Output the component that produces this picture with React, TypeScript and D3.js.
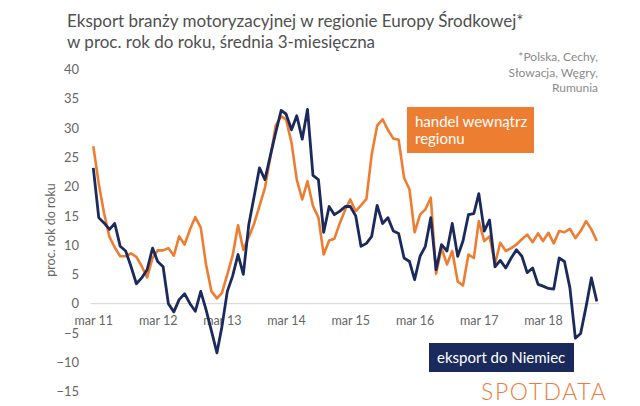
import * as d3 from "d3";
import { useRef, useEffect } from "react";

// monthly data, mar 2011 .. jan 2019
const startMonth = new Date(2011, 2, 1);

const intraRegion = [
  26.9, 20.5, 15.5, 11.4, 9.6, 8.1, 8.1, 8.6, 8.0, 6.4, 4.5, 7.8,
  9.1, 9.1, 9.5, 8.2, 11.5, 10.1, 12.7, 14.8, 13.0, 6.7, 2.1, 0.9,
  1.8, 5.0, 8.2, 13.4, 9.2, 11.4, 13.7, 16.7, 19.8, 24.9, 30.4, 32.0,
  31.5, 27.5, 21.2, 17.8, 20.9, 16.7, 14.7, 8.4, 10.8, 11.1, 13.8, 16.1,
  17.8, 15.8, 16.8, 17.9, 25.5, 30.4, 31.5, 29.7, 28.2, 28.0, 21.5, 19.5,
  12.2, 15.2, 16.1, 18.1, 5.1, 9.5, 6.7, 9.0, 3.8, 3.1, 8.4, 7.8,
  14.1, 10.7, 11.5, 6.8, 10.4, 9.0, 9.5, 10.1, 11.0, 11.8, 10.5, 12.0,
  10.7, 12.1, 10.3, 12.4, 12.2, 12.8, 11.2, 12.4, 14.1, 12.7, 10.7,
];

const toGermany = [
  23.2, 14.7, 13.8, 12.7, 13.7, 9.8, 9.0, 6.4, 3.4, 4.4, 5.8, 9.5,
  7.2, 6.3, 0.0, -1.4, 0.7, 1.7, 0.0, -1.3, 2.1, -1.0, -4.7, -8.4,
  -4.0, 2.1, 4.7, 8.4, 5.0, 13.5, 18.4, 23.2, 21.2, 25.2, 29.2, 33.0,
  32.4, 29.7, 32.1, 28.1, 33.2, 21.9, 21.2, 12.2, 16.6, 15.2, 15.8, 16.6,
  16.6, 15.0, 9.8, 10.3, 11.5, 16.8, 13.7, 14.7, 12.4, 12.0, 7.8, 7.2,
  4.1, 8.1, 9.8, 14.7, 5.8, 10.1, 9.0, 13.7, 8.1, 10.7, 15.2, 15.4,
  18.8, 12.4, 14.3, 6.3, 7.4, 6.1, 7.8, 9.2, 8.1, 5.3, 6.1, 3.3,
  3.0, 2.6, 2.5, 7.8, 7.2, 2.7, -5.9, -5.1, -0.5, 4.4, 0.4,
];

const yTicks = [-15, -10, -5, 0, 5, 10, 15, 20, 25, 30, 35, 40];
const xTickYears = [2011, 2012, 2013, 2014, 2015, 2016, 2017, 2018];

const titleLines = [
  "Eksport branży motoryzacyjnej w regionie Europy Środkowej*",
  "w proc. rok do roku, średnia 3-miesięczna",
];
const noteLines = ["*Polska, Cechy,", "Słowacja, Węgry,", "Rumunia"];

const orange = "#ed7d31";
const navy = "#1b2a5c";
const font = "Lato, 'Open Sans', sans-serif";

export default function App() {
  const svgRef = useRef(null);
  const width = 640;
  const height = 406;

  useEffect(() => {
    const svg = d3.select(svgRef.current);
    svg.selectAll("*").remove();

    const dates = intraRegion.map((_, i) => d3.timeMonth.offset(startMonth, i));

    const x = d3.scaleTime()
      .domain([new Date(2011, 2, 1), new Date(2018, 2, 1)])
      .range([93.3, 543]);

    const y = d3.scaleLinear()
      .domain([-15, 40])
      .range([391.5, 69.5]);

    svg.attr("width", width).attr("height", height)
      .attr("viewBox", [0, 0, width, height])
      .style("font-family", font);

    svg.append("rect").attr("width", width).attr("height", height).attr("fill", "#fff");

    // title
    svg.append("g")
      .selectAll("text")
      .data(titleLines)
      .join("text")
        .attr("x", 67)
        .attr("y", (d, i) => 27 + i * 21)
        .attr("font-size", 17)
        .attr("fill", "#505050")
        .text(d => d);

    // footnote
    svg.append("g")
      .selectAll("text")
      .data(noteLines)
      .join("text")
        .attr("x", 598)
        .attr("y", (d, i) => 61 + i * 15.5)
        .attr("text-anchor", "end")
        .attr("font-size", 12)
        .attr("fill", "#8a8a8a")
        .text(d => d);

    // zero line
    svg.append("line")
      .attr("x1", 90.5).attr("x2", 599)
      .attr("y1", y(0)).attr("y2", y(0))
      .attr("stroke", "#d4d4d4");

    svg.append("g")
      .attr("transform", `translate(79,0)`)
      .call(d3.axisLeft(y).tickValues(yTicks).tickSize(0).tickPadding(0))
      .call(g => g.select(".domain").remove())
      .call(g => g.selectAll("text")
        .attr("fill", "#666")
        .style("font-size", "13px")
        .style("font-family", font));

    svg.append("g")
      .attr("transform", `translate(0,${y(0)})`)
      .call(d3.axisBottom(x)
        .tickValues(xTickYears.map(yr => new Date(yr, 2, 1)))
        .tickFormat(d => "mar " + d3.timeFormat("%y")(d))
        .tickSize(0).tickPadding(12))
      .call(g => g.select(".domain").remove())
      .call(g => g.selectAll("text")
        .attr("fill", "#666")
        .style("font-size", "12.5px")
        .style("font-family", font));

    svg.append("text")
      .attr("transform", `translate(51,230) rotate(-90)`)
      .attr("text-anchor", "middle")
      .attr("dy", "0.35em")
      .attr("font-size", 12.5)
      .attr("fill", "#666")
      .text("proc. rok do roku");

    const line = d3.line()
      .x((d, i) => x(dates[i]))
      .y(d => y(d));

    svg.append("path")
      .attr("d", line(intraRegion))
      .attr("fill", "none")
      .attr("stroke", orange)
      .attr("stroke-width", 2.6)
      .attr("stroke-linejoin", "round");

    svg.append("path")
      .attr("d", line(toGermany))
      .attr("fill", "none")
      .attr("stroke", navy)
      .attr("stroke-width", 2.8)
      .attr("stroke-linejoin", "round");

    // labels
    const lab1 = svg.append("g");
    lab1.append("rect")
      .attr("x", 407).attr("y", 107)
      .attr("width", 127).attr("height", 46)
      .attr("fill", orange);
    lab1.selectAll("text")
      .data(["handel wewnątrz", "regionu"])
      .join("text")
        .attr("x", 415)
        .attr("y", (d, i) => 127 + i * 17)
        .attr("font-size", 15)
        .attr("fill", "#fff")
        .text(d => d);

    const lab2 = svg.append("g");
    lab2.append("rect")
      .attr("x", 429).attr("y", 343)
      .attr("width", 145).attr("height", 29)
      .attr("fill", navy);
    lab2.append("text")
      .attr("x", 437).attr("y", 363)
      .attr("font-size", 15)
      .attr("fill", "#fff")
      .text("eksport do Niemiec");

    // logo
    svg.append("text")
      .attr("x", 481).attr("y", 400)
      .attr("font-size", 23)
      .attr("font-weight", 300)
      .attr("letter-spacing", 1.6)
      .attr("fill", "#f07a3a")
      .text("SPOTDATA");
  }, []);

  return (
    <svg ref={svgRef} style={{ position: "absolute", left: 0, top: 0 }} />
  );
}
